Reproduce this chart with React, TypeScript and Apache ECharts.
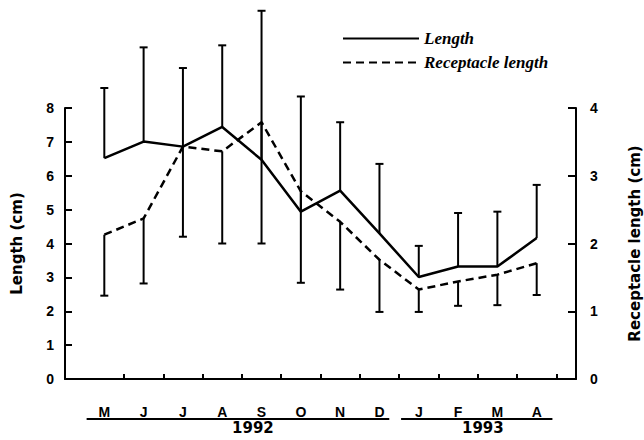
import React, { useEffect, useRef } from "react";
import * as echarts from "echarts";

const months = ["M", "J", "J", "A", "S", "O", "N", "D", "J", "F", "M", "A"];
const lengthMean = [6.52, 7.01, 6.86, 7.44, 6.47, 4.94, 5.56, 4.3, 3.01, 3.32, 3.32, 4.16];
const lengthUpper = [8.59, 9.79, 9.18, 9.85, 10.87, 8.34, 7.58, 6.35, 3.93, 4.9, 4.94, 5.73];
const receptacleMean = [2.13, 2.37, 3.43, 3.36, 3.79, 2.77, 2.32, 1.76, 1.32, 1.44, 1.54, 1.71];
const receptacleLower = [1.23, 1.41, 2.1, 2.0, 2.0, 1.42, 1.32, 0.99, 0.99, 1.08, 1.09, 1.24];
const years = ["1992", "1993"];
const yearStart = [-0.45, 7.55];
const yearEnd = [7.25, 11.4];
const yearLabelAt = [3.78, 9.63];

const SANS = "Liberation Sans";
const WIDE = "DejaVu Sans";
const SERIF = "Liberation Serif";

function errorBar(params: any, api: any) {
  const x = api.value(0);
  const m = api.value(1);
  const c = api.value(2);
  const p0 = api.coord([x, m]);
  const p1 = api.coord([x, c]);
  return {
    type: "group",
    children: [
      { type: "line", shape: { x1: p0[0], y1: p0[1], x2: p1[0], y2: p1[1] }, style: { stroke: "#000", lineWidth: 2 } },
      { type: "line", shape: { x1: p1[0] - 4, y1: p1[1], x2: p1[0] + 4, y2: p1[1] }, style: { stroke: "#000", lineWidth: 2 } },
    ],
  };
}

function yearGroup(params: any, api: any) {
  const s = api.value(0);
  const e = api.value(1);
  const t = api.value(2);
  const a = api.coord([s, 0]);
  const b = api.coord([e, 0]);
  const c = api.coord([t, 0]);
  return {
    type: "group",
    children: [
      { type: "line", shape: { x1: a[0], y1: a[1] + 40, x2: b[0], y2: b[1] + 40 }, style: { stroke: "#000", lineWidth: 2 } },
      {
        type: "text",
        x: c[0],
        y: c[1] + 49,
        style: {
          text: years[params.dataIndex],
          fill: "#000",
          font: `bold 15px "${WIDE}"`,
          align: "center",
          verticalAlign: "middle",
          lineHeight: 14,
        },
      },
    ],
  };
}

export default function App() {
  const ref = useRef<HTMLDivElement>(null);
  useEffect(() => {
    if (!ref.current) return;
    const chart = echarts.init(ref.current, null, { renderer: "svg" });
    const idx = months.map((_, i) => i);
    chart.setOption({
      animation: false,
      backgroundColor: "#fff",
      grid: { left: 65, right: 68, top: 108, bottom: 61, containLabel: false, outerBoundsMode: "none" },
      legend: {
        data: ["Length", "Receptacle length"],
        orient: "vertical",
        left: 337,
        top: 25,
        itemWidth: 76,
        itemHeight: 14,
        itemGap: 7,
        itemStyle: { opacity: 0 },
        textStyle: { fontFamily: SERIF, fontStyle: "italic", fontWeight: "bold", fontSize: 17, lineHeight: 17, color: "#000" },
      },
      xAxis: {
        type: "value",
        min: -1,
        max: 12,
        splitLine: { show: false },
        axisLine: { show: true, onZero: false, lineStyle: { color: "#000", width: 2 } },
        axisTick: { show: true, inside: true, length: 5, lineStyle: { color: "#000", width: 2 }, customValues: idx.map((i) => i + 0.5) },
        axisLabel: {
          customValues: idx,
          formatter: (v: number) => months[Math.round(v)] ?? "",
          margin: 26,
          fontFamily: SANS,
          fontWeight: "bold",
          fontSize: 14,
          lineHeight: 14,
          color: "#000",
        },
      },
      yAxis: [
        {
          type: "value",
          min: 0,
          max: 8,
          interval: 1,
          name: "Length (cm)",
          nameLocation: "middle",
          nameGap: 41,
          nameTextStyle: { fontFamily: WIDE, fontWeight: "bold", fontSize: 15, color: "#000" },
          splitLine: { show: false },
          axisLine: { show: true, onZero: false, lineStyle: { color: "#000", width: 2 } },
          axisTick: { show: true, inside: true, length: 7, lineStyle: { color: "#000", width: 2 } },
          axisLabel: { margin: 11, fontFamily: SANS, fontWeight: "bold", fontSize: 14, color: "#000" },
        },
        {
          type: "value",
          min: 0,
          max: 4,
          interval: 1,
          position: "right",
          name: "Receptacle length (cm)",
          nameLocation: "middle",
          nameGap: 51,
          nameTextStyle: { fontFamily: WIDE, fontWeight: "bold", fontSize: 15, color: "#000" },
          splitLine: { show: false },
          axisLine: { show: true, onZero: false, lineStyle: { color: "#000", width: 2 } },
          axisTick: { show: true, inside: true, length: 8, lineStyle: { color: "#000", width: 2 } },
          axisLabel: { margin: 14, fontFamily: SANS, fontWeight: "bold", fontSize: 14, color: "#000" },
        },
      ],
      series: [
        {
          name: "Length",
          type: "line",
          yAxisIndex: 0,
          symbol: "none",
          data: idx.map((i) => [i, lengthMean[i]]),
          lineStyle: { color: "#000", width: 2.5, type: "solid" },
          itemStyle: { color: "#000" },
          z: 3,
        },
        {
          name: "Receptacle length",
          type: "line",
          yAxisIndex: 1,
          symbol: "none",
          data: idx.map((i) => [i, receptacleMean[i]]),
          lineStyle: { color: "#000", width: 2.5, type: [8, 5] },
          itemStyle: { color: "#000" },
          z: 3,
        },
        {
          name: "lenErr",
          type: "custom",
          yAxisIndex: 0,
          clip: false,
          renderItem: errorBar,
          encode: { x: 0, y: [1, 2] },
          data: idx.map((i) => [i, lengthMean[i], lengthUpper[i]]),
          z: 2,
        },
        {
          name: "recErr",
          type: "custom",
          yAxisIndex: 1,
          clip: false,
          renderItem: errorBar,
          encode: { x: 0, y: [1, 2] },
          data: idx.map((i) => [i, receptacleMean[i], receptacleLower[i]]),
          z: 2,
        },
        {
          name: "years",
          type: "custom",
          yAxisIndex: 0,
          clip: false,
          renderItem: yearGroup,
          encode: { x: [0, 1, 2] },
          data: years.map((_, k) => [yearStart[k], yearEnd[k], yearLabelAt[k]]),
          z: 2,
        },
      ],
    });
    return () => chart.dispose();
  }, []);
  return (
    <div
      ref={ref}
      style={{ position: "fixed", left: 0, top: 0, width: 644, height: 440, background: "#fff" }}
    />
  );
}
